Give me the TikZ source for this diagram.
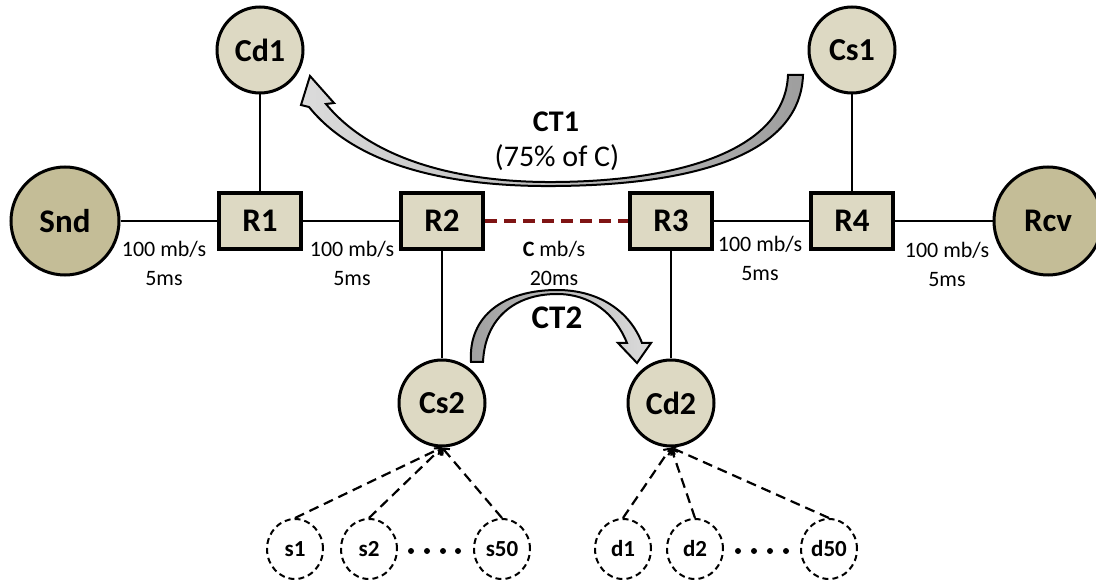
\documentclass[tikz,border=0pt]{standalone}
\usepackage{fontspec}
\setmainfont{Carlito}
\usetikzlibrary{arrows.meta,shapes.geometric}
\definecolor{darktan}{HTML}{C4BD97}
\definecolor{lighttan}{HTML}{DDD9C3}
\definecolor{linkred}{HTML}{7F1414}
\begin{document}
\begin{tikzpicture}[x=1pt,y=-1pt,
  host/.style={circle,draw,line width=3pt,fill=darktan,minimum size=108pt,inner sep=0pt,font=\fontsize{33}{36}\selectfont\bfseries},
  ctrl/.style={circle,draw,line width=3pt,fill=lighttan,minimum size=86pt,inner sep=0pt,font=\fontsize{32}{36}\selectfont\bfseries},
  router/.style={rectangle,draw,line width=4pt,fill=lighttan,minimum width=82pt,minimum height=56pt,inner sep=0pt,font=\fontsize{33}{36}\selectfont\bfseries},
  flow/.style={ellipse,draw,line width=2pt,dash pattern=on 6pt off 4pt,minimum width=56pt,minimum height=60pt,inner sep=0pt,font=\fontsize{23}{26}\selectfont\bfseries},
  link/.style={line width=2pt},
  agg/.style={line width=2.2pt,dash pattern=on 10pt off 6pt,-{Straight Barb[length=5pt,width=10pt,line width=2pt]}},
  lbl/.style={align=center,font=\fontsize{22}{29}\selectfont,inner sep=0pt},
  ctarrow/.style={draw=black,line width=2pt,line join=miter},
  dotmark/.style={circle,fill=black,inner sep=0pt,minimum size=6pt}]
\useasboundingbox (0,0) rectangle (1096,585);

% nodes
\node[host] (snd) at (65,221) {Snd};
\node[host] (rcv) at (1048,221) {Rcv};
\node[ctrl] (cd1) at (260,50) {Cd1};
\node[ctrl] (cs1) at (852,50) {Cs1};
\node[router] (r1) at (260,221) {R1};
\node[router] (r2) at (442,221) {R2};
\node[router] (r3) at (671,221) {R3};
\node[router] (r4) at (852,221) {R4};
\node[ctrl] (cs2) at (442,403) {Cs2};
\node[ctrl] (cd2) at (671,403) {Cd2};
\node[flow] (s1) at (295,549) {s1};
\node[flow] (s2) at (369,549) {s2};
\node[flow] (s50) at (502,549) {s50};
\node[flow] (d1) at (623,549) {d1};
\node[flow] (d2) at (695,549) {d2};
\node[flow] (d50) at (829,549) {d50};

% links
\draw[link] (snd) -- (r1);
\draw[link] (r1) -- (r2);
\draw[line width=4pt,color=linkred,dash pattern=on 12pt off 7pt] (r2) -- (r3);
\draw[link] (r3) -- (r4);
\draw[link] (r4) -- (rcv);
\draw[link] (cd1) -- (r1);
\draw[link] (cs1) -- (r4);
\draw[link] (r2) -- (cs2);
\draw[link] (r3) -- (cd2);

% flow aggregation
\draw[agg] (s1.north) -- (cs2.south);
\draw[agg] (s2.north) -- (cs2.south);
\draw[agg] (s50.north) -- (cs2.south);
\draw[agg] (d1.north) -- (cd2.south);
\draw[agg] (d2.north) -- (cd2.south);
\draw[agg] (d50.north) -- (cd2.south);

\foreach \x/\n in {411/a,427/b,443/c,458/d} \node[dotmark] (sdot\n) at (\x,551) {};
\foreach \x/\n in {738/a,754/b,770/c,786/d} \node[dotmark] (ddot\n) at (\x,551) {};

% link labels
\node[lbl] (l1) at (164,263) {100 mb/s\\5ms};
\node[lbl] (l2) at (352,263) {100 mb/s\\5ms};
\node[lbl] (l3) at (554,263) {\textbf{C} mb/s\\20ms};
\node[lbl] (l4) at (760,258) {100 mb/s\\5ms};
\node[lbl] (l5) at (947,264) {100 mb/s\\5ms};

% CT1 curved arrow
\path[ctarrow,left color=black!14,right color=black!38]
  (309,107) .. controls (360,170) and (460,187) .. (556,186)
  .. controls (680,185) and (800,160) .. (803,75)
  -- (788,75)
  .. controls (785,150) and (680,181) .. (556,182)
  .. controls (460,183) and (372,160) .. (326,104)
  -- (334,103) -- (310,76) -- (301,105) -- cycle;
\node[font=\fontsize{30}{34}\selectfont\bfseries] (ct1) at (556,122) {CT1};
\node[font=\fontsize{30}{34}\selectfont] (ct1b) at (557,158) {(75\% of C)};

% CT2 curved arrow
\path[ctarrow,left color=black!38,right color=black!14]
  (471,362) .. controls (468,315) and (505,290) .. (557,290)
  .. controls (600,290) and (630,312) .. (642,343)
  -- (651,343) -- (637,363) -- (618,343) -- (627,343)
  .. controls (615,313) and (590,294) .. (557,294)
  .. controls (515,294) and (485,318) .. (483,362) -- cycle;
\node[font=\fontsize{33}{36}\selectfont\bfseries] (ct2) at (557,318) {CT2};
\end{tikzpicture}
\end{document}
